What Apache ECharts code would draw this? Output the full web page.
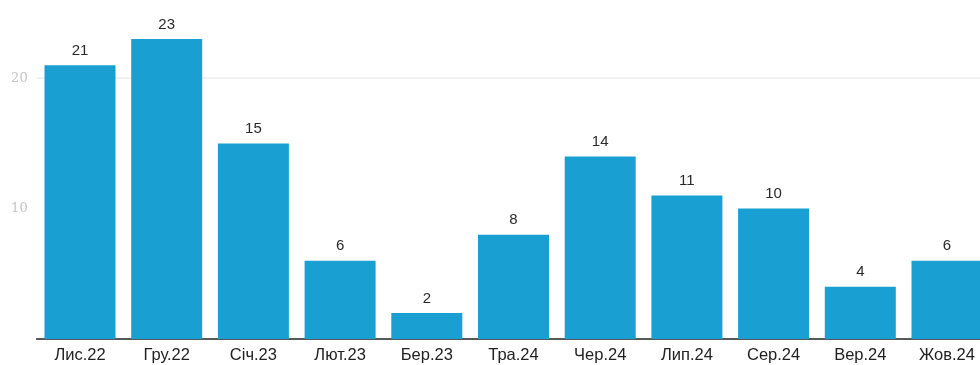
<!DOCTYPE html>
<html>
<head>
<meta charset="utf-8">
<script src="https://cdn.jsdelivr.net/npm/echarts@6/dist/echarts.min.js"></script>
<style>
  html, body { margin: 0; padding: 0; background: #fff; overflow: hidden; }
  /* canvas is a little wider than the page so the last bar gets cut at the edge */
  #chart { width: 992px; height: 365px; }
</style>
</head>
<body>
<div id="chart"></div>
<script>
// Monthly counts
const categories = ['Лис.22', 'Гру.22', 'Січ.23', 'Лют.23', 'Бер.23', 'Тра.24', 'Чер.24', 'Лип.24', 'Сер.24', 'Вер.24', 'Жов.24'];
const values = [21, 23, 15, 6, 2, 8, 14, 11, 10, 4, 6];
const yTickLabels = [10, 20];

const chart = echarts.init(document.getElementById('chart'), null, { renderer: 'canvas' });

chart.setOption({
  animation: false,
  grid: { left: 36.65, right: 1.65, top: 13, bottom: 26, containLabel: false },
  xAxis: {
    type: 'category',
    data: categories,
    axisLine: { show: true, lineStyle: { color: '#222', width: 1.5 } },
    axisTick: { show: false },
    axisLabel: {
      color: '#222',
      fontSize: 16.5,
      fontFamily: 'Liberation Sans, Arial, sans-serif',
      margin: 8,
      interval: 0
    }
  },
  yAxis: {
    type: 'value',
    min: 0,
    max: 25,
    interval: 10,
    axisLine: { show: false },
    axisTick: { show: false },
    axisLabel: {
      color: '#c4c4c4',
      fontSize: 13,
      fontFamily: 'DejaVu Serif, serif',
      margin: 9,
      showMaxLabel: false,
      formatter: v => (yTickLabels.indexOf(v) >= 0 ? String(v) : '')
    },
    splitLine: {
      show: true,
      lineStyle: { color: ['transparent', 'transparent', '#ececec'], width: 1.5 }
    }
  },
  series: [{
    type: 'bar',
    data: values,
    barWidth: 71,
    itemStyle: { color: '#1a9fd3' },
    label: {
      show: true,
      position: 'top',
      distance: 7,
      color: '#2a2a2a',
      fontSize: 15,
      fontFamily: 'Liberation Sans, Arial, sans-serif'
    }
  }]
});
</script>
</body>
</html>
